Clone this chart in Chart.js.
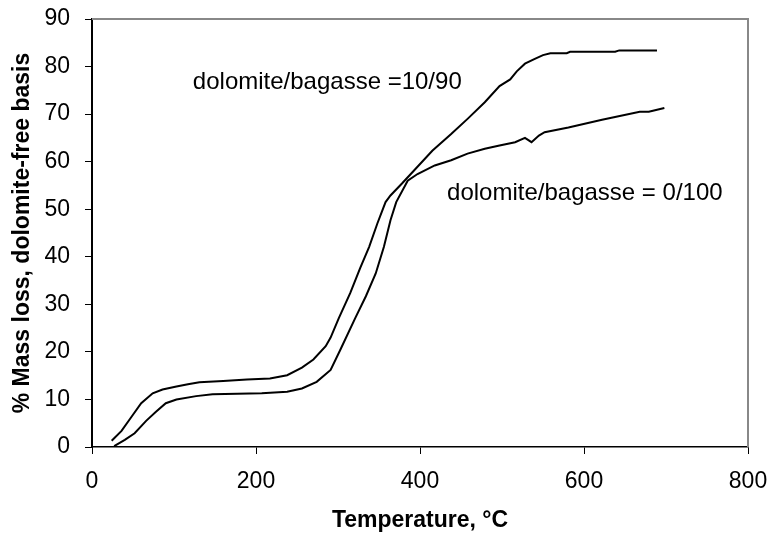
<!DOCTYPE html>
<html>
<head>
<meta charset="utf-8">
<script src="https://cdn.jsdelivr.net/npm/chart.js@4/dist/chart.umd.min.js"></script>
<style>
  html, body { margin: 0; padding: 0; background: #fff; }
  #wrap { width: 767px; height: 537px; }
</style>
</head>
<body>
<div id="wrap"><canvas id="myChart" width="767" height="537"></canvas></div>
<script>
// dolomite/bagasse = 10/90
const tempMix = [24, 36, 48, 60, 74, 86, 103, 117, 131, 160, 189, 217, 238, 256, 270, 285, 291, 301, 315, 327, 338, 348, 358, 364, 378, 393, 415, 438, 458, 479, 497, 510, 518, 528, 540, 550, 559, 579, 583, 638, 643, 689];
const lossMix = [1.3, 3.4, 6.3, 9.2, 11.3, 12.1, 12.7, 13.2, 13.6, 13.9, 14.2, 14.4, 15.1, 16.7, 18.4, 21.2, 23, 27.1, 32.4, 37.6, 42.1, 47, 51.5, 52.9, 55.4, 58.2, 62.3, 65.8, 69, 72.5, 75.9, 77.3, 79, 80.6, 81.6, 82.4, 82.8, 82.8, 83.1, 83.1, 83.4, 83.4];

// dolomite/bagasse = 0/100
const tempPure = [27, 40, 52, 66, 78, 90, 103, 127, 147, 207, 238, 256, 274, 291, 303, 321, 334, 346, 356, 364, 371, 385, 397, 418, 438, 458, 479, 497, 516, 528, 536, 545, 552, 581, 622, 668, 679, 698];
const lossPure = [0.2, 1.5, 2.9, 5.5, 7.4, 9.2, 10, 10.7, 11.1, 11.3, 11.6, 12.3, 13.7, 16.2, 20.5, 27.1, 31.7, 36.5, 42.1, 47.7, 51.5, 56, 57.4, 59.2, 60.3, 61.7, 62.7, 63.4, 64.1, 65.0, 64.1, 65.5, 66.2, 67.2, 68.8, 70.5, 70.5, 71.3];

const seriesNames = ["dolomite/bagasse =10/90", "dolomite/bagasse = 0/100"];
const labelAt = [[123, 75.3], [433, 52.0]];

const xTitle = "Temperature, °C";
const yTitle = "% Mass loss, dolomite-free basis";

const FONT = "'Liberation Sans', Arial, sans-serif";

toPoints = (xs, ys) => xs.map((x, i) => ({x: x, y: ys[i]}));

// grey frame on top and right + curve labels
const extras = {
    id: 'extras',
    afterDraw(chart) {
        const ctx = chart.ctx;
        const a = chart.chartArea;
        ctx.save();
        ctx.strokeStyle = '#888888';
        ctx.lineWidth = 2;
        ctx.beginPath();
        ctx.moveTo(a.left, a.top);
        ctx.lineTo(a.right, a.top);
        ctx.lineTo(a.right, a.bottom);
        ctx.stroke();

        ctx.fillStyle = '#000';
        ctx.font = "24px " + FONT;
        ctx.textAlign = 'left';
        ctx.textBaseline = 'alphabetic';
        const xs = chart.scales.x, ys = chart.scales.y;
        for (let i = 0; i < seriesNames.length; i++) {
            ctx.fillText(seriesNames[i], xs.getPixelForValue(labelAt[i][0]), ys.getPixelForValue(labelAt[i][1]));
        }
        ctx.restore();
    }
};

const ctx = document.getElementById('myChart').getContext('2d');
const myChart = new Chart(ctx, {
    type: 'scatter',
    data: {
        datasets: [{
            label: seriesNames[0],
            data: toPoints(tempMix, lossMix),
            showLine: true,
            borderColor: '#000',
            borderWidth: 2,
            pointRadius: 0,
            tension: 0
        }, {
            label: seriesNames[1],
            data: toPoints(tempPure, lossPure),
            showLine: true,
            borderColor: '#000',
            borderWidth: 2,
            pointRadius: 0,
            tension: 0
        }]
    },
    options: {
        responsive: false,
        animation: false,
        layout: { padding: { top: 19, right: 19, left: 0, bottom: 0 } },
        plugins: {
            legend: { display: false },
            tooltip: { enabled: false }
        },
        scales: {
            x: {
                type: 'linear',
                min: 0,
                max: 800,
                ticks: { stepSize: 200, color: '#000', padding: 14, font: { size: 23, family: FONT } },
                grid: { drawOnChartArea: false, tickLength: 7, color: '#000', lineWidth: 1 },
                border: { color: '#000', width: 1.5 },
                title: { display: true, text: xTitle, color: '#000', font: { size: 23, weight: 'bold', family: FONT }, padding: { top: 0, bottom: 3 } },
                afterFit: (s) => { s.height = 90; s.paddingLeft = 0; s.paddingRight = 0; }
            },
            y: {
                min: 0,
                max: 90,
                ticks: { stepSize: 10, color: '#000', padding: 15, font: { size: 23, family: FONT } },
                grid: { drawOnChartArea: false, tickLength: 7, color: '#000', lineWidth: 1 },
                border: { color: '#000', width: 2 },
                title: { display: true, text: yTitle, color: '#000', font: { size: 23, weight: 'bold', family: FONT }, padding: { top: 9, bottom: 0 } },
                afterFit: (s) => { s.width = 92; s.paddingTop = 0; s.paddingBottom = 0; }
            }
        }
    },
    plugins: [extras]
});
</script>
</body>
</html>
